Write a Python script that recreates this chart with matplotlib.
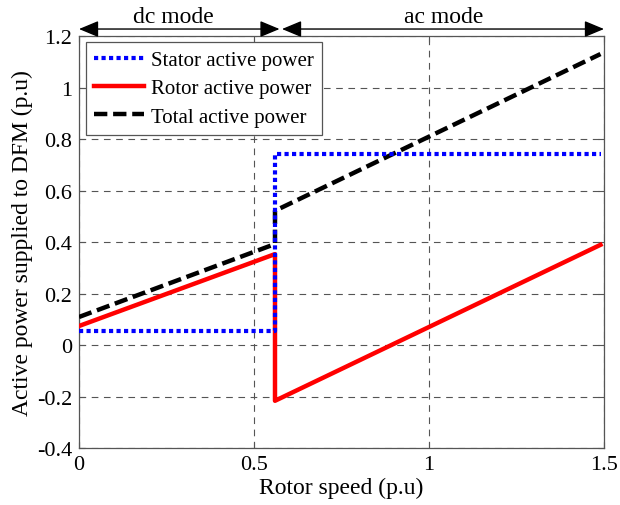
import matplotlib
matplotlib.use('Agg')
import matplotlib.pyplot as plt

# data (jump at rotor speed ~0.56 p.u.)
speed_dc = [0.0, 0.56]
speed_ac = [0.56, 1.49]
stator_dc = [0.055, 0.055]
stator_ac = [0.742, 0.742]
rotor_dc = [0.075, 0.354]
rotor_ac = [-0.215, 0.39]
total_dc = [0.11, 0.393]
total_ac = [0.522, 1.13]

xticks = [0, 0.5, 1, 1.5]
xticklabels = ['0', '0.5', '1', '1.5']
yticks = [-0.4, -0.2, 0, 0.2, 0.4, 0.6, 0.8, 1, 1.2]
yticklabels = ['-0.4', '-0.2', '0', '0.2', '0.4', '0.6', '0.8', '1', '1.2']


def main():
    plt.rcParams['font.family'] = ['Liberation Serif', 'DejaVu Serif']
    plt.rcParams['font.size'] = 16

    fig = plt.figure(figsize=(6.2, 5.06), dpi=100)
    ax = fig.add_axes([0.1274, 0.1117, 0.8468, 0.8152])

    # join the two segments through the jump
    sx = speed_dc + speed_ac
    ax.plot(sx, stator_dc + stator_ac, color='#0000ff', lw=3, ls=(0, (1, 0.8)),
            label='Stator active power', zorder=5)
    ax.plot(sx, rotor_dc + rotor_ac, color='#ff0000', lw=3.2, ls='-',
            label='Rotor active power', zorder=4)
    ax.plot(sx, total_dc + total_ac, color='black', lw=3.2, ls=(0, (3, 1.3)),
            label='Total active power', zorder=3)

    ax.set_xlim(0, 1.5)
    ax.set_ylim(-0.4, 1.2)
    ax.set_xticks(xticks)
    ax.set_xticklabels(xticklabels)
    ax.set_yticks(yticks)
    ax.set_yticklabels(yticklabels)
    ax.tick_params(direction='in', length=4, width=0.8, color='#555555',
                   top=True, right=True, labelsize=16, pad=5)
    ax.grid(True, color='#555555', ls=(0, (6, 5)), lw=0.8)
    for sp in ax.spines.values():
        sp.set_color('#555555')
        sp.set_linewidth(0.9)

    ax.set_xlabel('Rotor speed (p.u)', fontsize=17, labelpad=2)
    ax.set_ylabel('Active power supplied to DFM (p.u)', fontsize=17, labelpad=3)

    leg = ax.legend(loc='upper left', bbox_to_anchor=(0.0133, 0.985), fancybox=False,
                    edgecolor='#555555', framealpha=1, fontsize=15,
                    handlelength=2.4, handletextpad=0.3, borderpad=0.4,
                    labelspacing=0.42, borderaxespad=0)
    leg.get_frame().set_linewidth(0.9)

    # mode arrows above the plot
    yarr = 1.227
    head = dict(arrowstyle='<|-|>,head_length=0.6,head_width=0.25', color='black',
                lw=1, mutation_scale=20, shrinkA=0, shrinkB=0)
    ax.annotate('', xy=(0.0, yarr), xytext=(0.573, yarr), annotation_clip=False,
                arrowprops=head)
    ax.annotate('', xy=(0.58, yarr), xytext=(1.5, yarr), annotation_clip=False,
                arrowprops=head)
    ax.text(0.27, yarr + 0.008, 'dc mode', ha='center', va='bottom', fontsize=17,
            clip_on=False)
    ax.text(1.042, yarr + 0.008, 'ac mode', ha='center', va='bottom', fontsize=17,
            clip_on=False)

    fig.savefig('out.png', dpi=100)


if __name__ == '__main__':
    main()
